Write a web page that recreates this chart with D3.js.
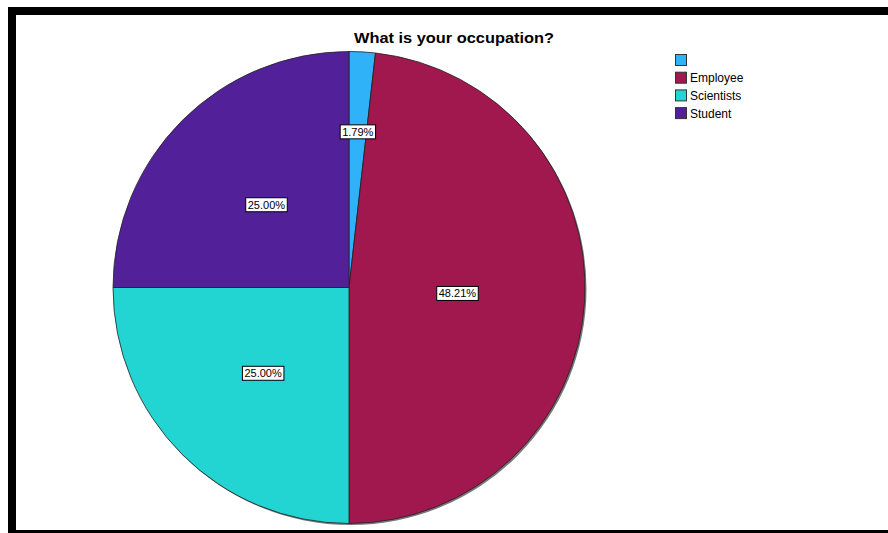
<!DOCTYPE html>
<html><head><meta charset="utf-8">
<script src="https://cdn.jsdelivr.net/npm/d3@7/dist/d3.min.js"></script>
<style>body{margin:0;background:#fff;}svg{display:block;}</style>
</head><body>
<svg id="c" width="888" height="533"></svg>
<script>
const categories = ["", "Employee", "Scientists", "Student"];
const percents = [1.79, 48.21, 25.00, 25.00];
const colors = ["#30b2f8", "#a0184e", "#22d5d3", "#52219a"];
const title = "What is your occupation?";

const svg = d3.select("#c");
// frame
svg.append("rect").attr("x",8).attr("y",7).attr("width",900).attr("height",540).attr("fill","#000");
svg.append("rect").attr("x",16).attr("y",15).attr("width",900).attr("height",515).attr("fill","#fff");

svg.append("text").attr("x",454).attr("y",43).attr("text-anchor","middle")
  .attr("font-family","Liberation Sans, Arial, sans-serif").attr("font-weight","bold")
  .attr("font-size",15).attr("fill","#000").attr("textLength",200).attr("lengthAdjust","spacingAndGlyphs").text(title);

const cx = 349, cy = 287.5, r = 236;
const pie = d3.pie().sort(null).value(d=>d)(percents);
const arc = d3.arc().innerRadius(0).outerRadius(r);
const g = svg.append("g").attr("transform",`translate(${cx},${cy})`);
// shadow
g.append("circle").attr("cx",1.5).attr("cy",1.5).attr("r",r).attr("fill","#777");
g.selectAll("path.s").data(pie).join("path").attr("class","s")
  .attr("d",arc).attr("fill",(d,i)=>colors[i]).attr("stroke","#222").attr("stroke-width",0.8);

const labelFrac = [0.66, 0.46, 0.515, 0.495];
const lab = g.selectAll("g.l").data(pie).join("g").attr("class","l")
  .attr("transform",(d,i)=>{
    const rr = r*labelFrac[i];
    const [x,y] = d3.arc().innerRadius(rr).outerRadius(rr).centroid(d);
    return `translate(${x},${y})`;
  });
lab.append("text").attr("text-anchor","middle").attr("dy","0.35em")
  .attr("font-family","Liberation Sans, Arial, sans-serif").attr("font-size",11)
  .attr("fill","#000").text((d,i)=>percents[i].toFixed(2)+"%");
lab.each(function(){
  const t = d3.select(this).select("text");
  const b = t.node().getBBox();
  d3.select(this).insert("rect","text").attr("x",b.x-2).attr("y",b.y-1).attr("width",b.width+4)
    .attr("height",b.height+2).attr("fill","#fff").attr("stroke","#000").attr("stroke-width",1);
});

const lg = svg.append("g").attr("transform","translate(675,54)");
const items = lg.selectAll("g").data(categories).join("g").attr("transform",(d,i)=>`translate(0,${i*17.7})`);
items.append("rect").attr("x",0.5).attr("y",0.5).attr("width",11).attr("height",11)
  .attr("fill",(d,i)=>colors[i]).attr("stroke","#333").attr("stroke-width",1);
items.append("text").attr("x",15).attr("y",10.5).attr("font-family","Liberation Sans, Arial, sans-serif")
  .attr("font-size",12).attr("fill","#000").text(d=>d);
</script>
</body></html>
